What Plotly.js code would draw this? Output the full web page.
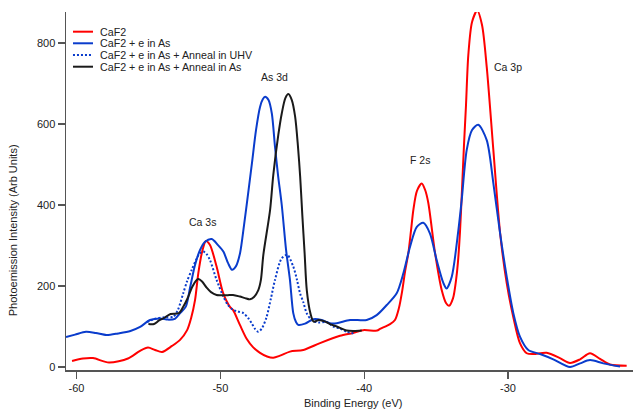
<!DOCTYPE html>
<html>
<head>
<meta charset="utf-8">
<script src="https://cdn.plot.ly/plotly-3.0.1.min.js"></script>
<style>html,body{margin:0;padding:0;background:#fff;}#chart{width:633px;height:412px;}</style>
</head>
<body>
<div id="chart"></div>
<script>
// ---- Data ----
const seriesNames = ["CaF2", "CaF2 + e in As", "CaF2 + e in As + Anneal in UHV", "CaF2 + e in As + Anneal in As"];

const caf2X = [-60.31,-59.55,-58.85,-57.74,-56.42,-55.58,-55.03,-54.54,-54.05,-53.36,-52.80,-52.31,-52.03,-51.76,-51.53,-51.27,-51.00,-50.72,-50.26,-49.81,-49.32,-49.12,-48.64,-48.16,-47.73,-47.24,-46.75,-46.32,-45.85,-45.16,-44.23,-43.07,-41.68,-40.77,-40.08,-39.10,-38.90,-38.20,-37.86,-37.58,-37.37,-37.16,-36.93,-36.74,-36.58,-36.33,-36.00,-35.76,-35.54,-35.07,-34.61,-34.31,-34.10,-33.82,-33.61,-33.48,-33.34,-33.20,-33.06,-32.92,-32.76,-32.50,-32.14,-31.81,-31.48,-31.02,-30.55,-30.09,-29.63,-29.17,-28.70,-28.24,-27.31,-26.39,-25.69,-24.99,-24.30,-23.60,-22.91,-21.75];
const caf2Y = [15,21,22,11,21,40,48,42,37,52,67,91,121,165,232,284,311,301,248,183,148,141,104,69,49,35,26,23,28,38,42,59,77,84,91,90,94,106,116,146,185,235,281,338,388,435,453,437,405,281,190,158,151,170,215,259,333,437,548,647,770,852,880,845,741,536,331,207,123,59,34,32,35,22,10,19,34,20,6,3];

const asX = [-60.73,-60.10,-59.34,-58.65,-57.91,-57.11,-56.25,-55.58,-54.89,-54.20,-53.64,-53.16,-52.80,-52.40,-52.11,-51.76,-51.41,-51.06,-50.60,-50.16,-49.79,-49.47,-49.19,-48.91,-48.63,-48.35,-48.08,-47.80,-47.52,-47.24,-47.05,-46.89,-46.65,-46.42,-46.20,-45.99,-45.73,-45.43,-45.16,-44.93,-44.74,-44.58,-44.11,-43.53,-42.96,-42.38,-41.91,-40.98,-39.82,-39.13,-38.43,-37.74,-37.27,-36.81,-36.34,-35.89,-35.43,-34.96,-34.49,-34.27,-33.91,-33.45,-33.22,-32.87,-32.50,-32.07,-31.48,-31.02,-30.55,-30.09,-29.63,-29.17,-28.59,-27.77,-26.85,-25.69,-24.99,-24.30,-23.38,-22.21];
const asY = [74,80,87,84,79,83,89,99,116,120,117,119,133,149,195,252,289,309,316,301,285,257,240,249,281,351,425,504,585,642,661,667,659,626,544,474,400,289,215,133,111,104,107,118,116,108,108,116,116,128,153,182,232,297,346,356,330,264,207,194,223,338,412,536,585,598,560,454,330,223,133,75,42,32,19,0,9,17,9,1];

const uhvX = [-55.09,-54.54,-53.84,-53.27,-52.95,-52.58,-52.31,-51.99,-51.64,-51.42,-51.18,-50.96,-50.72,-50.26,-49.79,-49.47,-49.10,-48.77,-48.40,-48.07,-47.82,-47.59,-47.36,-47.10,-46.78,-46.48,-46.20,-45.74,-45.35,-44.93,-44.67,-44.46,-44.23,-44.00,-43.65,-43.21,-42.60,-42.15,-41.68,-41.22,-40.75];
const uhvY = [111,119,123,124,141,182,212,240,268,281,285,279,264,215,174,153,141,137,133,121,108,94,87,96,124,170,215,268,277,248,215,182,160,133,116,110,111,100,95,87,83];

const annAsX = [-55.00,-54.61,-54.26,-53.92,-53.46,-52.88,-52.59,-52.30,-51.95,-51.64,-51.53,-51.27,-50.95,-50.65,-50.26,-49.56,-49.12,-48.64,-48.28,-47.94,-47.66,-47.36,-47.18,-47.01,-46.54,-46.32,-45.97,-45.73,-45.48,-45.27,-45.03,-44.80,-44.61,-44.45,-44.30,-44.14,-43.99,-43.74,-43.51,-43.16,-42.70,-42.38,-41.91,-41.22,-40.71,-40.17];
const annAsY = [106,106,115,121,131,133,148,168,198,215,217,211,196,185,178,177,178,174,170,167,173,190,215,277,388,474,573,626,664,674,659,618,548,470,375,281,190,133,112,116,112,106,100,90,89,90];

const peakLabels = ["Ca 3s", "As 3d", "F 2s", "Ca 3p"];
const peakLabelX = [-51.21, -46.20, -36.12, -30.00];
const peakLabelY = [357, 717, 511, 741];

const xTickVals = [-60, -50, -40, -30];
const xTickText = ["-60", "-50", "-40", "-30"];
const yTickVals = [0, 200, 400, 600, 800];
const yTickText = ["0", "200", "400", "600", "800"];

// ---- Styles ----
const colors = ["#ff0000", "#0a3ccc", "#0a3ccc", "#1a1a1a"];
const dashes = ["solid", "solid", "2px,2px", "solid"];
const xsAll = [caf2X, asX, uhvX, annAsX];
const ysAll = [caf2Y, asY, uhvY, annAsY];
const font = "Liberation Sans, Arial, Helvetica, sans-serif";
const textColor = "#222";
const axisColor = "#555";

const traces = xsAll.map((xs, i) => ({
  x: xs, y: ysAll[i], type: "scatter", mode: "lines", name: seriesNames[i],
  line: {color: colors[i], width: 2, dash: dashes[i], shape: "spline", smoothing: 0.8},
  showlegend: false, hoverinfo: "skip"
}));

// Manual compact legend (row spacing of the reference)
const legX0 = 0.0123, legX1 = 0.0476, legTextX = 0.0559;
const legY = [0.945, 0.9126, 0.8799, 0.8472];
const shapes = seriesNames.map((n, i) => ({
  type: "line", xref: "paper", yref: "paper", x0: legX0, x1: legX1, y0: legY[i], y1: legY[i],
  line: {color: colors[i], width: 2, dash: dashes[i]}
}));
const annotations = seriesNames.map((n, i) => ({
  text: n, xref: "paper", yref: "paper", x: legTextX, y: legY[i], xanchor: "left", yanchor: "middle",
  showarrow: false, font: {family: font, size: 10.7, color: textColor}
}));
peakLabels.forEach((t, i) => annotations.push({
  text: t, xref: "x", yref: "y", x: peakLabelX[i], y: peakLabelY[i], xanchor: "center", yanchor: "middle",
  showarrow: false, font: {family: font, size: 10.5, color: textColor}
}));
// axis titles
annotations.push({text: "Binding Energy (eV)", xref: "paper", yref: "paper", x: 0.5058, y: -0.092,
  xanchor: "center", yanchor: "middle", showarrow: false, font: {family: font, size: 11, color: textColor}});
annotations.push({text: "Photoemission Intensity (Arb Units)", xref: "paper", yref: "paper", x: -0.092, y: 0.39,
  xanchor: "center", yanchor: "middle", textangle: -90, showarrow: false, font: {family: font, size: 11, color: textColor}});

const layout = {
  width: 633, height: 412,
  margin: {l: 66, r: 0, t: 12, b: 42, pad: 0},
  paper_bgcolor: "#fff", plot_bgcolor: "#fff",
  font: {family: font, size: 11, color: textColor},
  xaxis: {range: [-60.73, -21.31], showgrid: false, zeroline: false, showline: true, linecolor: axisColor, linewidth: 1.5,
    ticks: "outside", ticklen: 7, tickwidth: 1.2, tickcolor: axisColor, tickvals: xTickVals, ticktext: xTickText,
    tickfont: {family: font, size: 11, color: textColor}},
  yaxis: {range: [-7.4, 876.5], showgrid: false, zeroline: false, showline: true, linecolor: axisColor, linewidth: 1.5,
    ticks: "outside", ticklen: 7, tickwidth: 1.2, tickcolor: axisColor, tickvals: yTickVals, ticktext: yTickText,
    tickfont: {family: font, size: 11, color: textColor}},
  shapes: shapes, annotations: annotations, showlegend: false
};

Plotly.newPlot("chart", traces, layout, {displayModeBar: false, staticPlot: true});
</script>
</body>
</html>
